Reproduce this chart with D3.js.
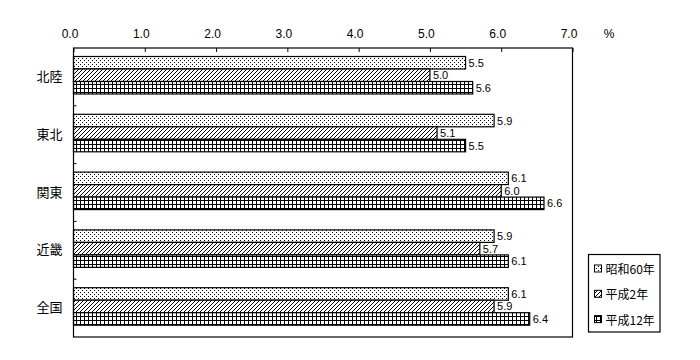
<!DOCTYPE html>
<html><head><meta charset="utf-8">
<script src="https://cdn.jsdelivr.net/npm/d3@7"></script>
<style>body{margin:0;background:#fff}svg{display:block}text{font-family:"MS Gothic","Noto Sans CJK JP",sans-serif;fill:#000}</style>
</head><body>
<svg id="c" width="700" height="360"></svg>
<script>
const categories = ["北陸","東北","関東","近畿","全国"];
const seriesNames = ["昭和60年","平成2年","平成12年"];
const s1 = [5.5, 5.9, 6.1, 5.9, 6.1];
const s2 = [5.0, 5.1, 6.0, 5.7, 5.9];
const s3 = [5.6, 5.5, 6.6, 6.1, 6.4];
const tickValues = [0,1,2,3,4,5,6,7];
const series = [s1, s2, s3];

const svg = d3.select("#c");
const defs = svg.append("defs");
// dots
const p1 = defs.append("pattern").attr("id","pDots").attr("patternUnits","userSpaceOnUse").attr("width",4).attr("height",4);
p1.append("rect").attr("width",4).attr("height",4).attr("fill","#fff");
p1.append("rect").attr("x",0).attr("y",0).attr("width",1).attr("height",1).attr("fill","#000");
p1.append("rect").attr("x",2).attr("y",2).attr("width",1).attr("height",1).attr("fill","#000");
// hatch
const p2 = defs.append("pattern").attr("id","pHatch").attr("patternUnits","userSpaceOnUse").attr("width",4).attr("height",4);
p2.append("rect").attr("width",4).attr("height",4).attr("fill","#fff");
p2.append("path").attr("d","M-1,1 L1,-1 M0,4 L4,0 M3,5 L5,3").attr("stroke","#000").attr("stroke-width",1);
// grid
const p3 = defs.append("pattern").attr("id","pGrid").attr("patternUnits","userSpaceOnUse").attr("width",4).attr("height",4);
p3.append("rect").attr("width",4).attr("height",4).attr("fill","#fff");
p3.append("rect").attr("x",0).attr("y",0).attr("width",4).attr("height",1).attr("fill","#000");
p3.append("rect").attr("x",0).attr("y",0).attr("width",1).attr("height",4).attr("fill","#000");
const fills = ["url(#pDots)","url(#pHatch)","url(#pGrid)"];

const L = 73.5, R = 572.5, T = 48, B = 337;
const x = d3.scaleLinear().domain([0,7]).range([L,R]);
const y = d3.scaleBand().domain(categories).range([T,B]).padding(0);
const barOff = 8.5, barH = 12.5;
const numFont = '"Liberation Sans",Arial,sans-serif';

// bars
series.forEach((vals, si) => {
  svg.append("g").selectAll("rect").data(categories).join("rect")
    .attr("x", x(0))
    .attr("y", c => y(c) + barOff + si*barH)
    .attr("width", (c,i) => x(vals[i]) - x(0))
    .attr("height", barH)
    .attr("fill", fills[si]).attr("stroke","#000").attr("stroke-width",1.2);
  svg.append("g").selectAll("text").data(categories).join("text")
    .attr("x", (c,i) => x(vals[i]) + 3)
    .attr("y", c => y(c) + barOff + si*barH + barH/2 + 4)
    .attr("font-size",11)
    .style("font-family",numFont)
    .text((c,i) => vals[i].toFixed(1));
});

// frame
svg.append("rect").attr("x",L).attr("y",T).attr("width",R-L).attr("height",B-T)
  .attr("fill","none").attr("stroke","#000").attr("stroke-width",1.2);

// top axis
const ax = svg.append("g").attr("transform",`translate(0,${T})`)
  .call(d3.axisTop(x).tickValues(tickValues).tickFormat(d3.format(".1f")).tickSizeInner(-4).tickSizeOuter(0).tickPadding(10));
ax.select(".domain").remove();
ax.selectAll("line").attr("stroke","#000");
ax.selectAll("text").attr("font-size",12).attr("dx",-4).style("font-family",numFont);
svg.append("text").attr("x",609).attr("y",T-10).attr("text-anchor","middle").attr("font-size",12).style("font-family",numFont).text("%");

// left ticks at band boundaries
svg.append("g").selectAll("line").data(categories.slice(1)).join("line")
  .attr("x1",L).attr("x2",L+3).attr("y1",c=>y(c)).attr("y2",c=>y(c)).attr("stroke","#000");

// category labels
const ay = svg.append("g").attr("transform",`translate(${L},0)`)
  .call(d3.axisLeft(y).tickSize(0).tickPadding(11));
ay.select(".domain").remove();
ay.selectAll("text").attr("font-size",13).style("font-family",'"MS Gothic","Noto Sans CJK JP",sans-serif');

// legend
const lg = svg.append("g");
lg.append("rect").attr("x",588.5).attr("y",254.5).attr("width",71.5).attr("height",77.5)
  .attr("fill","#fff").attr("stroke","#000").attr("stroke-width",1.2);
seriesNames.forEach((n,i) => {
  const cy = 268.5 + i*25.3;
  lg.append("rect").attr("x",594.5).attr("y",cy-3.5).attr("width",7).attr("height",7)
    .attr("fill",fills[i]).attr("stroke","#000");
  lg.append("text").attr("x",605.5).attr("y",cy).attr("dominant-baseline","central")
    .attr("font-size",12).text(n);
});
</script>
</body></html>
